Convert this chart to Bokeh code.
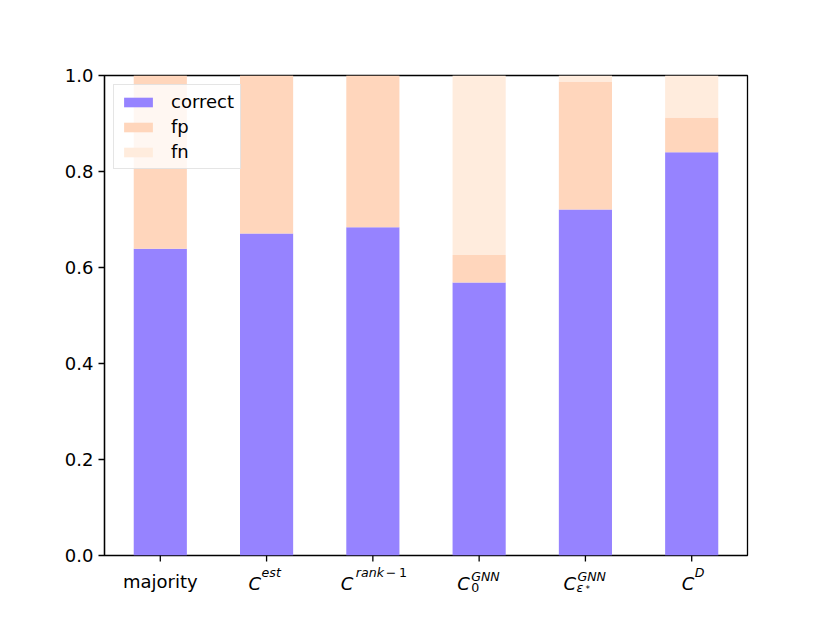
from bokeh.plotting import figure
from bokeh.models import ColumnDataSource, Range1d, FixedTicker, NumeralTickFormatter
from bokeh.layouts import column
from bokeh.core.properties import value
from bokeh.embed import file_html
from bokeh.resources import INLINE

# ---- data ----
methods = ["majority", "C^est", "C^rank-1", "C_0^GNN", "C_eps*^GNN", "C^D"]
correct = [0.639, 0.671, 0.684, 0.569, 0.721, 0.840]
fp = [0.361, 0.329, 0.316, 0.057, 0.2665, 0.0725]
fn = [0.0, 0.0, 0.0, 0.374, 0.0125, 0.0875]
series = ["correct", "fp", "fn"]
colors = ["#9683FF", "#FFD6BC", "#FFECDD"]

# tick label pieces (math-style labels)
tick_plain = ["majority", "", "", "", "", ""]
tick_base = ["", "C", "C", "C", "C", "C"]
tick_sup = ["", "est", "rank", "GNN", "GNN", "D"]
tick_sup_tail = ["", "", "\u2212\u20091", "", "", ""]
tick_sub_num = ["", "", "", "0", "", ""]
tick_sub_greek = ["", "", "", "", "\u03b5", ""]
tick_sub_sup = ["", "", "", "", "*", ""]
y_ticks = [0.0, 0.2, 0.4, 0.6, 0.8, 1.0]

x = list(range(len(methods)))
FONT = "DejaVu Sans"
BOTTOM_PAD = 12

# ---- main plot ----
src = ColumnDataSource(dict(x=x, correct=correct, fp=fp, fn=fn))
p = figure(width=830, height=75 + 480 + BOTTOM_PAD,
           min_border_left=104, min_border_right=83, min_border_top=75, min_border_bottom=BOTTOM_PAD,
           x_range=Range1d(-0.525, 5.525), y_range=Range1d(0, 1),
           x_axis_location=None,
           output_backend="svg", toolbar_location=None)

p.vbar_stack(series, x="x", width=0.5, color=colors, line_color=None,
             source=src, legend_label=series)

p.xgrid.visible = False
p.ygrid.visible = False
p.outline_line_color = "black"
p.outline_line_width = 1.3
p.background_fill_color = "white"
p.border_fill_color = "white"

ax = p.yaxis[0]
ax.axis_line_color = "black"
ax.axis_line_width = 1.3
ax.major_tick_line_color = "black"
ax.major_tick_line_width = 1.3
ax.major_tick_out = 6
ax.major_tick_in = 0
ax.minor_tick_line_color = None
ax.major_label_text_font = FONT
ax.major_label_text_font_size = "18px"
ax.major_label_text_color = "black"
ax.major_label_standoff = 5
ax.ticker = FixedTicker(ticks=y_ticks)
ax.formatter = NumeralTickFormatter(format="0.0")

lg = p.legend[0]
lg.location = "top_left"
lg.margin = 9
lg.padding = 6
lg.spacing = 4
lg.glyph_width = 36
lg.glyph_height = 12
lg.label_standoff = 15
lg.label_height = 20
lg.label_text_font = FONT
lg.label_text_font_size = "18px"
lg.label_text_color = "black"
lg.border_line_color = "#cccccc"
lg.border_line_width = 1.3
lg.background_fill_alpha = 0.8

# ---- transparent strip under the frame: x ticks + math-style tick labels ----
STRIP_TOP = 555  # window y of the frame bottom
strip = figure(width=830, height=623 - STRIP_TOP,
               min_border_left=104, min_border_right=83, min_border_top=0, min_border_bottom=0,
               x_range=p.x_range, y_range=Range1d(623, STRIP_TOP),
               x_axis_location=None, y_axis_location=None,
               output_backend="svg", toolbar_location=None)
strip.margin = (-BOTTOM_PAD, 0, 0, 0)
strip.outline_line_color = None
strip.xgrid.visible = False
strip.ygrid.visible = False
strip.background_fill_color = None
strip.border_fill_color = None

# tick marks
strip.segment(x0=x, y0=[STRIP_TOP] * len(x), x1=x, y1=[STRIP_TOP + 6] * len(x),
              line_color="black", line_width=1.3)

# pixel layout of the label pieces (offset from tick; baseline in window pixels)
base_dx = [0, -18, -32, -22, -22, -10]
sup_dx = [0, -5, -17, -8, -8, 3]
sup_y = [0, 572, 572, 576, 576, 572]
tail_dx = [0, 0, 13, 0, 0, 0]
sub_dx = [0, 0, 0, -8, -9, 0]
ss_dx = [0, 0, 0, 0, 0, 0]


def piece(texts, dx, y, size, style, align="left"):
    idx = [i for i in x if texts[i]]
    s = ColumnDataSource(dict(x=[x[i] for i in idx],
                              y=[(y[i] if isinstance(y, list) else y) for i in idx],
                              t=[texts[i] for i in idx], dx=[dx[i] for i in idx]))
    strip.text(x="x", y="y", text="t", x_offset="dx", source=s,
               text_font=value(FONT), text_font_size=value(size), text_font_style=style,
               text_align=align, text_baseline="alphabetic", text_color="black")


piece(tick_plain, [0] * 6, 581, "18px", "normal", align="center")
piece(tick_base, base_dx, 583, "18px", "italic")
piece(tick_sup, sup_dx, sup_y, "12.6px", "italic")
piece(tick_sup_tail, tail_dx, sup_y, "12.6px", "normal")
piece(tick_sub_num, sub_dx, 587, "12.6px", "normal")
piece(tick_sub_greek, sub_dx, 587, "12.6px", "italic")
piece(tick_sub_sup, ss_dx, 588, "9px", "normal")

layout = column(p, strip, spacing=0)
open("out.html", "w").write(file_html(layout, INLINE))
